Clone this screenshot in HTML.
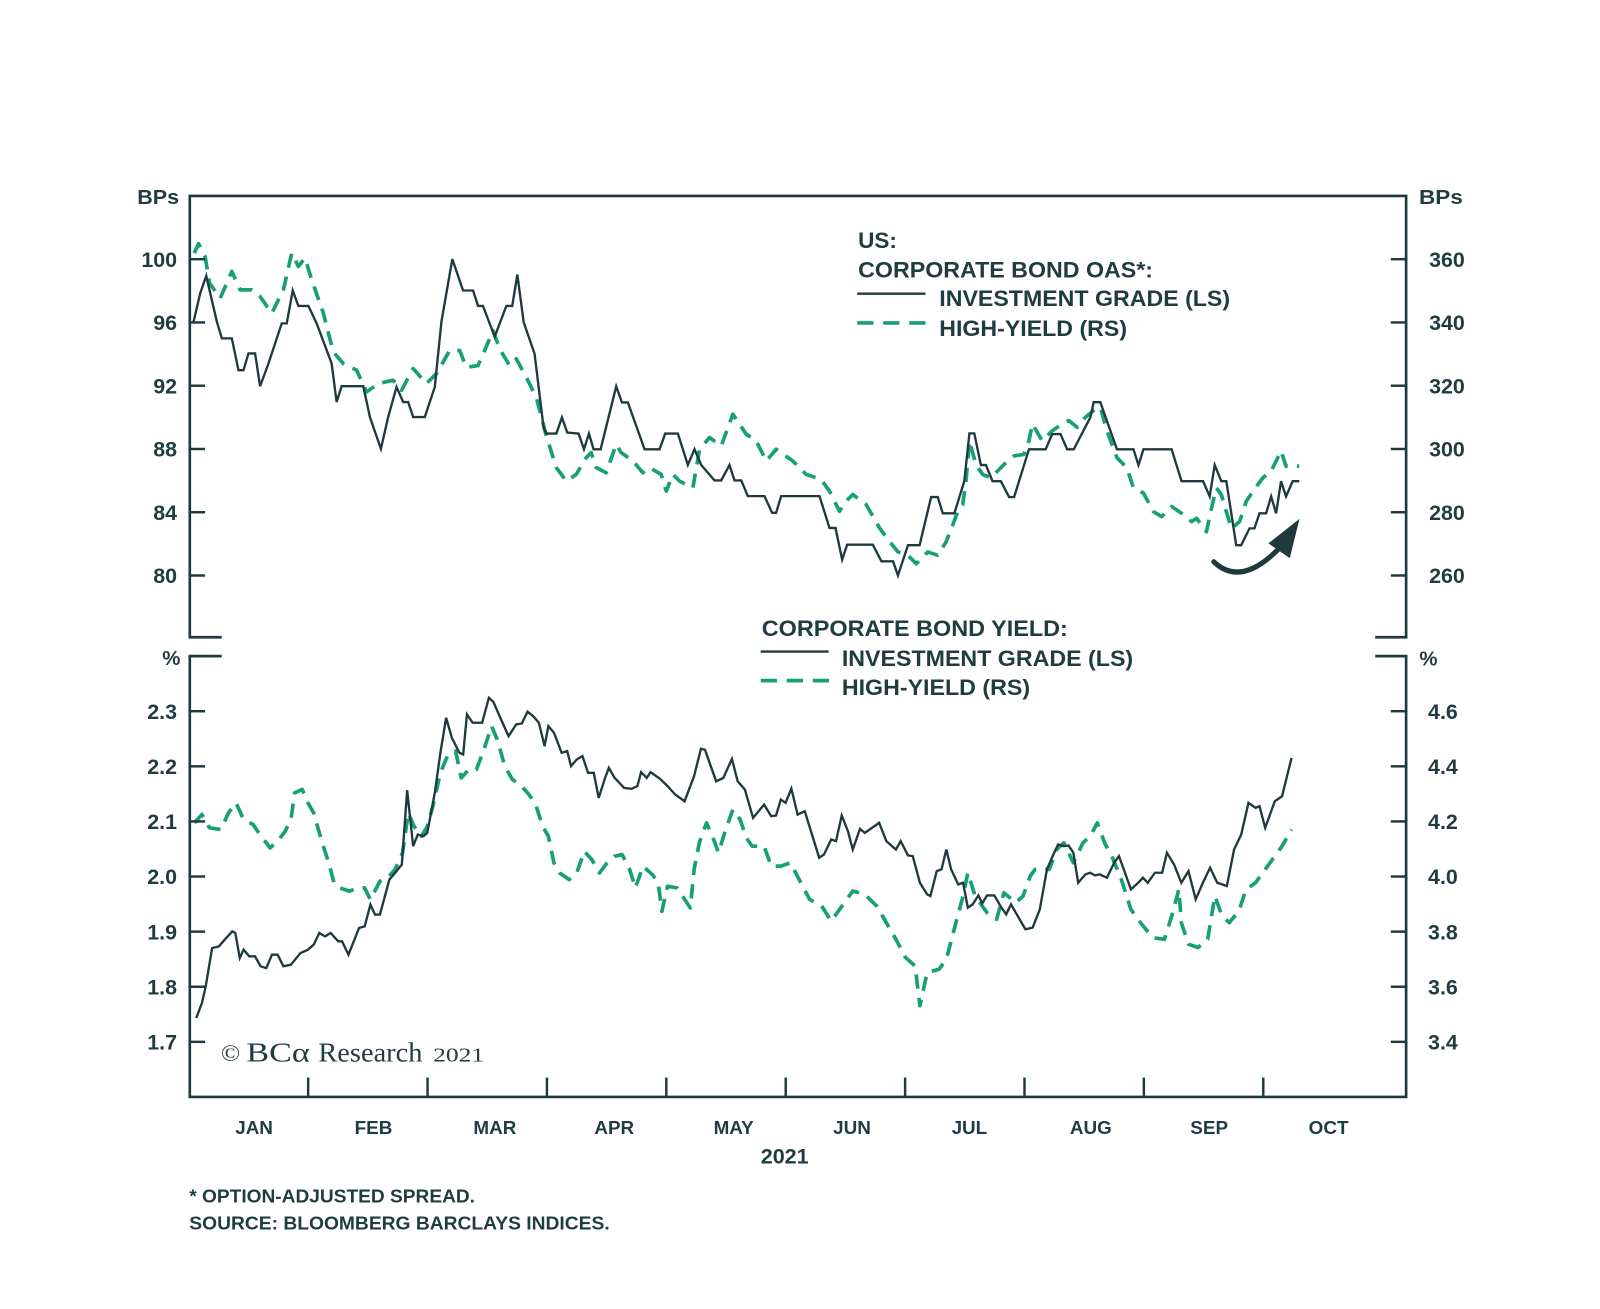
<!DOCTYPE html>
<html>
<head>
<meta charset="utf-8">
<style>
  html,body{margin:0;padding:0;background:#ffffff;}
  svg{display:block;}
  .t{font-family:"Liberation Sans",Arial,sans-serif;font-weight:bold;fill:#1f3c3e;}
  .s{font-family:"Liberation Serif","Times New Roman",serif;fill:#1f3c3e;}
</style>
</head>
<body>
<svg width="1600" height="1309" viewBox="0 0 1568 1282.82" preserveAspectRatio="none" xmlns="http://www.w3.org/2000/svg">
  <rect x="0" y="0" width="1568" height="1282.82" fill="#ffffff"/>

  <!-- ===== Upper panel series ===== -->
  <polyline fill="none" stroke="#17a075" stroke-width="3.6" stroke-dasharray="14 9" stroke-linejoin="round"
    points="190.4,248 194.6,238.8 201.1,251.9 205.4,277.5 215.8,292.3 227.2,266 235.4,284.1 246.8,284.1 254.9,290.6 266.3,307 277.7,284.1 285.9,248 292.4,261.1 298.9,252.9 305.5,274.2 316.9,307 326.6,344.8 336.4,356.2 349.5,362.8 359.2,384.1 370.7,375.9 385.3,372.6 393.5,382.5 404.9,361.2 417.9,375.9 427.7,366.1 440.7,343.5 450.5,343.5 457,360 468.4,358.3 475,343.5 483.1,323.9 489.7,341.9 499.4,358.3 506,351.7 515.8,369.8 525.6,389.5 535.4,427.2 545.2,458.3 555,471.5 564.7,464.9 574.5,448.5 579.4,443.6 584.3,458.3 594.1,463.3 603.9,435.4 608.8,443.6 620.3,451.8 630,463.3 636.6,458.3 648,464.9 652.9,481.3 659.4,464.9 666,471.5 679,478 685.6,440.3 695.3,428.8 706.8,437 718.2,405.9 724.7,415.7 731.3,425.5 741.1,432.1 750.9,451.8 760.6,440.3 777,451.8 790,464.9 804.7,469.8 812.9,481.3 822.7,501 829.2,491.1 835.7,484.6 848.8,494.4 861.9,517.4 871.6,530.5 880,540.9 889.8,544.2 897.9,552.5 909.3,540.9 919,544.2 927.2,531 933.7,514.5 938.6,501.3 943.4,494.7 946.7,471.6 950,432 956.4,455.1 963,465 971,468.3 977.5,461.7 984,455.1 993.8,446.9 1003.6,445.2 1008.4,432 1011.7,415.5 1021.4,432 1031.2,422.1 1041,415.5 1047.4,412.2 1055.6,418.8 1063.7,408.9 1071.8,402.3 1078.3,399 1084.8,422.1 1094.6,448.5 1104.3,458.4 1110.8,478.2 1120.6,483.2 1130.3,501.3 1138.4,506.3 1148.2,496.4 1157.9,503 1167.7,511.2 1172.6,507.9 1182.3,521.1 1187.2,498 1192.1,478.2 1196.9,484.8 1201.8,501.3 1206.7,517.8 1214.8,511.2 1221.3,491.4 1227.8,481.5 1237.6,468.3 1245.7,461.7 1250.6,451.8 1255.4,441.9 1260.3,456.8 1266.8,456.8 1273.3,456.8"/>
  <polyline fill="none" stroke="#1e3a3c" stroke-width="2.3" stroke-linejoin="miter"
    points="189.7,315.2 196.2,287.4 202.1,270.3 212.5,315.2 217.4,331.6 227.2,331.6 233.7,362.8 238.6,362.8 243.5,346.4 250,346.4 254.9,378.5 263.1,356.2 276.1,316.9 281,316.9 286.9,284.7 292.4,299.8 302.2,299.8 310.3,316.9 325,356.2 329.9,394 334.8,378.5 356,378.5 362.5,408.7 373.3,439.9 380.4,408.7 388.6,379.2 395.1,394 400,394 404.9,408.7 416.3,408.7 426.1,379.2 432.6,315.2 443.3,253.9 453.8,284.7 463.6,284.7 468.5,299.8 473.3,299.8 484.8,330 496.2,299.8 502,299.8 507,269.1 513.2,315.7 523.9,346.8 532.7,419 535.4,424.9 545.2,424.9 550.7,409.1 555.9,423.9 567,424.9 572.3,440.3 577.2,424.9 581.7,440.3 588.6,440.3 603.9,378.6 609.5,394.4 615.3,394.4 631.7,440.3 646.4,440.3 651.9,424.9 664.3,424.9 674.1,455.7 680.6,440.3 687.2,455.7 700.2,470.8 706.8,470.8 714.9,455.7 719.8,470.8 726.4,470.8 732.9,486.2 749.2,486.2 756.7,502.6 760.6,502.6 765.5,486.2 803.1,486.2 812.9,517.4 818.8,517.4 825.3,548.5 830.2,533.8 855.3,533.8 863.8,550.1 875.2,550.1 880,564 889.8,534.3 901.2,534.3 912.5,487.1 919,487.1 923.9,503 935.3,503 945,471.6 950,424.7 954.8,424.7 961.3,455.8 966.2,455.8 972.7,471.6 980.8,471.6 988.9,487.1 993.8,487.1 1008.4,440.3 1024.7,440.3 1031.2,425.4 1039.3,425.4 1045.8,440.3 1052.3,440.3 1068.6,408.9 1071.8,394.1 1078.3,394.1 1094.6,440.3 1110.8,440.3 1115.7,455.8 1120.6,440.3 1148.2,440.3 1157.9,471.6 1179,471.6 1185.5,486.5 1190.4,455.8 1196.9,471.6 1201.8,471.6 1211.5,534.3 1216.4,534.3 1224.5,517.8 1229.4,517.8 1234.3,503 1240.8,503 1245.7,486.5 1250.6,503 1255.4,471.6 1260.3,486.5 1266.8,471.6 1273.3,471.6"/>

  <!-- Arrow -->
  <path d="M1189.5,550.5 Q1216,576 1254,537" fill="none" stroke="#1e3a3c" stroke-width="5" stroke-linecap="round"/>
  <polygon points="1273.5,508.5 1243,532.5 1264,547" fill="#1e3a3c"/>

  <!-- ===== Lower panel series ===== -->
  <polyline fill="none" stroke="#17a075" stroke-width="3.6" stroke-dasharray="14 9" stroke-linejoin="round"
    points="190.5,806.4 197.9,798.2 205.3,811.3 216.5,812.9 223.9,796.6 231.3,786.8 238.7,803.1 248,808 253.6,816.2 264.7,830.9 272.1,824.4 279.5,814.6 285.1,803.1 288.8,777 296.2,773.7 301.8,786.8 307.4,796.6 314.8,822.8 322.2,845.7 327.8,866.9 333.3,870.2 342.6,873.4 350,870.2 357.4,870.2 363,881.6 372.3,863.6 379.7,860.4 387.1,852.2 394.5,835.8 400.1,796.6 405.7,809.7 413.1,819.5 418.7,809.7 424.2,790.1 431.6,757.4 439.1,739.4 446.5,736.1 452,762.3 459.5,754.1 466.9,754.1 474.3,734.5 481.7,711.6 487.3,724.7 494.7,750.8 502.1,763.9 509.6,768.8 517,777 524.4,786.8 531.8,809.7 537.4,819.5 542.9,845.7 548.5,855.5 557.8,862 565.2,855.5 572.6,834.2 580,842.4 587.5,855.5 594.9,845.7 602.3,839.1 609.7,837.5 617.1,852.2 622.7,870.2 630.1,848.9 639.4,857.1 645,865.3 648.7,893.1 654.2,868.5 663.5,870.2 669.1,878.4 676.5,889.8 680.2,852.2 685.3,826 692.4,806.4 699.4,822.7 704.1,835.7 711.2,812.9 718.2,793.4 725.3,803.1 731.4,821.1 737,829.2 748.8,829.2 755.8,848.8 765.2,848.8 774.6,845.5 784,863.5 793.4,881.4 805.2,887.9 814.6,902.6 826.3,886.3 835.7,873.2 847.5,876.5 859.2,887.9 868.6,904.2 878,920.5 887.4,938.4 896.8,946.6 901.5,985.7 908.6,953.1 920.3,949.8 927.4,940.1 936.8,904.2 943.8,878.1 948.5,855.3 955.6,878.1 967.3,894.4 976.7,900.9 983.8,874.9 995.5,884.6 1002.6,878.1 1009.6,858.6 1014.3,852 1028.4,852 1035.5,832.5 1042.5,826 1051.9,845.5 1061.3,826 1068.4,819.4 1075.4,806.4 1082.5,826 1089.5,839 1098.9,861.8 1108.3,891.2 1117.7,904.2 1129.5,918.9 1141.2,920.5 1148.3,897.7 1155.3,871.6 1157.7,904.2 1164.7,925.4 1174.1,928.6 1183.5,920.5 1190.6,878.1 1197.6,897.7 1204.7,904.2 1214.1,892.8 1221.1,871.6 1230.5,865.1 1239.9,852 1249.3,839 1256.4,829.2 1265.7,812.9"/>
  <polyline fill="none" stroke="#1e3a3c" stroke-width="2.3" stroke-linejoin="miter"
    points="192.3,997.7 197.9,983 201.6,966.6 207.9,929.1 214.6,927.4 220.2,920.9 227.6,912.7 230.6,914.3 235,938.8 238.7,930.7 244.3,937.2 249.9,937.2 255.4,947 261,948.7 266.5,935.6 272.1,935.6 277.7,947 285.1,945.4 294.4,934 301.8,930.7 307.4,925.8 312.9,914.3 318.5,917.6 324,914.3 331.5,922.5 335.2,922.5 341.5,935.6 351.9,909.4 357.4,907.8 363,886.5 367.5,896.3 372.3,896.3 381.6,862 387.1,855.5 393.8,847.3 399,774.4 404.9,829.3 409.4,817.9 414.9,819.5 418.7,816.2 426.1,777 431.6,737.7 437.2,703.4 442.8,723 450.2,737.7 453.9,739.4 457.6,700.1 463.2,708.3 472.5,708.3 479.1,683.8 483.6,688 491,705 498.4,721.4 505.8,710 511.4,709 517,697.5 522.5,701.8 528.1,708.3 533.7,731.2 537.4,711.6 542.9,718.1 550.4,737.7 555.9,736.1 559.6,750.8 565.2,744.3 570.8,741 576.3,757.4 581.9,757.4 586.7,781.9 593,762.3 596.7,752.5 602.3,762.3 611.6,772.1 619,773 624.6,770.4 628.3,756.7 633.8,762.3 637.5,756.7 646.8,763.2 654.2,770.4 661.7,778.6 670.9,785.2 680.2,760.6 686.9,733.8 690.9,734.7 701.8,765.7 708.8,762.4 717.3,743.8 722.9,765.7 730,773.8 738,801.5 748.8,788.5 755.8,799.9 760.5,799.2 765.2,783.6 769.9,786.8 775.5,772.8 781.7,798.3 788.7,795 802.8,840.6 807.5,837.4 814.6,822.7 819.3,824.3 824.9,799.2 831,814.6 835.7,832.5 842.8,812.3 847.5,816.2 854.5,811.3 861.6,806.4 868.6,824.3 878,832.5 882.7,824.3 889.8,838.3 894.5,839 901.5,865.1 908.6,876.5 911.8,878.1 918,853.7 922.7,852 927.4,832.5 932.1,852 939.1,866.7 943.8,865.1 948.5,889.5 953.2,886.3 958.8,877.5 962.6,885.3 967.3,877.5 974.4,877.5 981.4,889.5 986.1,896 990.8,886.3 995.5,894.4 1004.9,910.7 1012,909.1 1019,891.2 1026,852 1033.1,835.7 1036.9,827.6 1042.5,829.2 1047.2,828.6 1051.9,835.7 1056.6,865.1 1063.7,856.9 1068.4,855.3 1073.1,857.9 1077.8,856.9 1084.8,860.2 1091.9,845.5 1096.6,839 1101.3,852 1108.3,871.6 1115.4,865.1 1120.1,860.2 1124.8,865.1 1131.8,855.3 1138.9,855.3 1143.6,835.7 1150.6,847.2 1157.7,865.1 1164.7,853.7 1171.8,881.4 1178.8,865.1 1185.9,850.4 1192.9,865.1 1202.3,868.3 1209.4,832.5 1216.4,817.8 1223.5,786.8 1230.5,791.7 1234.3,790.1 1239.9,811.3 1249.3,785.2 1256.4,780.3 1265.7,742.8"/>

  <!-- ===== Axes / frame ===== -->
  <g stroke="#1e3a3c" stroke-width="2.6" fill="none" stroke-linecap="square">
    <!-- upper panel -->
    <polyline points="216,624.5 186,624.5 186,192 1378,192 1378,624.5 1349,624.5"/>
    <!-- lower panel -->
    <polyline points="216,643 186,643 186,1075 1378,1075 1378,643 1349,643"/>
  </g>
  <g stroke="#1e3a3c" stroke-width="2.4">
    <!-- upper left ticks -->
    <line x1="186" y1="254" x2="201" y2="254"/>
    <line x1="186" y1="316" x2="201" y2="316"/>
    <line x1="186" y1="378" x2="201" y2="378"/>
    <line x1="186" y1="440" x2="201" y2="440"/>
    <line x1="186" y1="502" x2="201" y2="502"/>
    <line x1="186" y1="564" x2="201" y2="564"/>
    <!-- upper right ticks -->
    <line x1="1363" y1="254" x2="1378" y2="254"/>
    <line x1="1363" y1="316" x2="1378" y2="316"/>
    <line x1="1363" y1="378" x2="1378" y2="378"/>
    <line x1="1363" y1="440" x2="1378" y2="440"/>
    <line x1="1363" y1="502" x2="1378" y2="502"/>
    <line x1="1363" y1="564" x2="1378" y2="564"/>
    <!-- lower left ticks -->
    <line x1="186" y1="697" x2="201" y2="697"/>
    <line x1="186" y1="751" x2="201" y2="751"/>
    <line x1="186" y1="805" x2="201" y2="805"/>
    <line x1="186" y1="859" x2="201" y2="859"/>
    <line x1="186" y1="913" x2="201" y2="913"/>
    <line x1="186" y1="967" x2="201" y2="967"/>
    <line x1="186" y1="1021" x2="201" y2="1021"/>
    <!-- lower right ticks -->
    <line x1="1363" y1="697" x2="1378" y2="697"/>
    <line x1="1363" y1="751" x2="1378" y2="751"/>
    <line x1="1363" y1="805" x2="1378" y2="805"/>
    <line x1="1363" y1="859" x2="1378" y2="859"/>
    <line x1="1363" y1="913" x2="1378" y2="913"/>
    <line x1="1363" y1="967" x2="1378" y2="967"/>
    <line x1="1363" y1="1021" x2="1378" y2="1021"/>
    <!-- month ticks -->
    <line x1="302" y1="1075" x2="302" y2="1056"/>
    <line x1="419" y1="1075" x2="419" y2="1056"/>
    <line x1="536" y1="1075" x2="536" y2="1056"/>
    <line x1="653" y1="1075" x2="653" y2="1056"/>
    <line x1="770" y1="1075" x2="770" y2="1056"/>
    <line x1="887" y1="1075" x2="887" y2="1056"/>
    <line x1="1004" y1="1075" x2="1004" y2="1056"/>
    <line x1="1121" y1="1075" x2="1121" y2="1056"/>
    <line x1="1238" y1="1075" x2="1238" y2="1056"/>
  </g>

  <!-- ===== Axis labels ===== -->
  <text class="t" x="134.5" y="200" font-size="20" textLength="41" lengthAdjust="spacingAndGlyphs">BPs</text>
  <text class="t" x="1390.6" y="200" font-size="20" textLength="43" lengthAdjust="spacingAndGlyphs">BPs</text>

  <g class="t" font-size="21" text-anchor="end">
    <text x="173.5" y="261.5">100</text>
    <text x="173.5" y="323.5">96</text>
    <text x="173.5" y="385.5">92</text>
    <text x="173.5" y="447.5">88</text>
    <text x="173.5" y="509.5">84</text>
    <text x="173.5" y="571.5">80</text>
    <text x="173.5" y="704.5">2.3</text>
    <text x="173.5" y="758.5">2.2</text>
    <text x="173.5" y="812.5">2.1</text>
    <text x="173.5" y="866.5">2.0</text>
    <text x="173.5" y="920.5">1.9</text>
    <text x="173.5" y="974.5">1.8</text>
    <text x="173.5" y="1028.5">1.7</text>
  </g>
  <g class="t" font-size="21">
    <text x="1400.5" y="261.5">360</text>
    <text x="1400.5" y="323.5">340</text>
    <text x="1400.5" y="385.5">320</text>
    <text x="1400.5" y="447.5">300</text>
    <text x="1400.5" y="509.5">280</text>
    <text x="1400.5" y="571.5">260</text>
    <text x="1399.5" y="704.5">4.6</text>
    <text x="1399.5" y="758.5">4.4</text>
    <text x="1399.5" y="812.5">4.2</text>
    <text x="1399.5" y="866.5">4.0</text>
    <text x="1399.5" y="920.5">3.8</text>
    <text x="1399.5" y="974.5">3.6</text>
    <text x="1399.5" y="1028.5">3.4</text>
  </g>
  <text class="t" x="159" y="651.5" font-size="20">%</text>
  <text class="t" x="1391" y="652" font-size="20">%</text>

  <!-- Month labels -->
  <g class="t" font-size="18.5" text-anchor="middle">
    <text x="249" y="1111.5">JAN</text>
    <text x="366" y="1111.5">FEB</text>
    <text x="485" y="1111.5">MAR</text>
    <text x="602" y="1111.5">APR</text>
    <text x="719" y="1111.5">MAY</text>
    <text x="835" y="1111.5">JUN</text>
    <text x="950" y="1111.5">JUL</text>
    <text x="1069" y="1111.5">AUG</text>
    <text x="1185" y="1111.5">SEP</text>
    <text x="1302" y="1111.5">OCT</text>
  </g>
  <text class="t" x="745.5" y="1140" font-size="21" textLength="47" lengthAdjust="spacingAndGlyphs">2021</text>

  <!-- Footnotes -->
  <text class="t" x="185.5" y="1178.5" font-size="18.5" textLength="280" lengthAdjust="spacingAndGlyphs">* OPTION-ADJUSTED SPREAD.</text>
  <text class="t" x="185.5" y="1205" font-size="18.5" textLength="412" lengthAdjust="spacingAndGlyphs">SOURCE: BLOOMBERG BARCLAYS INDICES.</text>

  <!-- ===== Upper legend ===== -->
  <text class="t" x="841" y="243" font-size="22" textLength="38" lengthAdjust="spacingAndGlyphs">US:</text>
  <text class="t" x="841" y="272" font-size="22" textLength="289" lengthAdjust="spacingAndGlyphs">CORPORATE BOND OAS*:</text>
  <line x1="840" y1="287.8" x2="907" y2="287.8" stroke="#1e3a3c" stroke-width="2.3"/>
  <text class="t" x="920.5" y="300" font-size="22" textLength="285" lengthAdjust="spacingAndGlyphs">INVESTMENT GRADE (LS)</text>
  <g stroke="#17a075" stroke-width="3.6">
    <line x1="840" y1="316.5" x2="856" y2="316.5"/>
    <line x1="865.5" y1="316.5" x2="881.5" y2="316.5"/>
    <line x1="891" y1="316.5" x2="907" y2="316.5"/>
  </g>
  <text class="t" x="920.5" y="329.5" font-size="22" textLength="184" lengthAdjust="spacingAndGlyphs">HIGH-YIELD (RS)</text>

  <!-- ===== Lower legend ===== -->
  <text class="t" x="746.5" y="623.5" font-size="22" textLength="300" lengthAdjust="spacingAndGlyphs">CORPORATE BOND YIELD:</text>
  <line x1="745.5" y1="638.5" x2="812" y2="638.5" stroke="#1e3a3c" stroke-width="2.3"/>
  <text class="t" x="825" y="652.5" font-size="22" textLength="285.5" lengthAdjust="spacingAndGlyphs">INVESTMENT GRADE (LS)</text>
  <g stroke="#17a075" stroke-width="3.6">
    <line x1="745.5" y1="667" x2="761.5" y2="667"/>
    <line x1="771" y1="667" x2="787" y2="667"/>
    <line x1="796.5" y1="667" x2="812.5" y2="667"/>
  </g>
  <text class="t" x="825" y="681" font-size="22" textLength="184.5" lengthAdjust="spacingAndGlyphs">HIGH-YIELD (RS)</text>

  <!-- ===== Copyright ===== -->
  <text class="s" x="216.5" y="1040" font-size="23" textLength="19" lengthAdjust="spacingAndGlyphs">©</text>
  <text class="s" x="241.5" y="1040.5" font-size="27" textLength="62" lengthAdjust="spacingAndGlyphs">BCα</text>
  <text class="s" x="312" y="1040.5" font-size="27" textLength="102" lengthAdjust="spacingAndGlyphs">Research</text>
  <text class="s" x="424.5" y="1040.5" font-size="20" textLength="50" lengthAdjust="spacingAndGlyphs">2021</text>
</svg>
</body>
</html>
